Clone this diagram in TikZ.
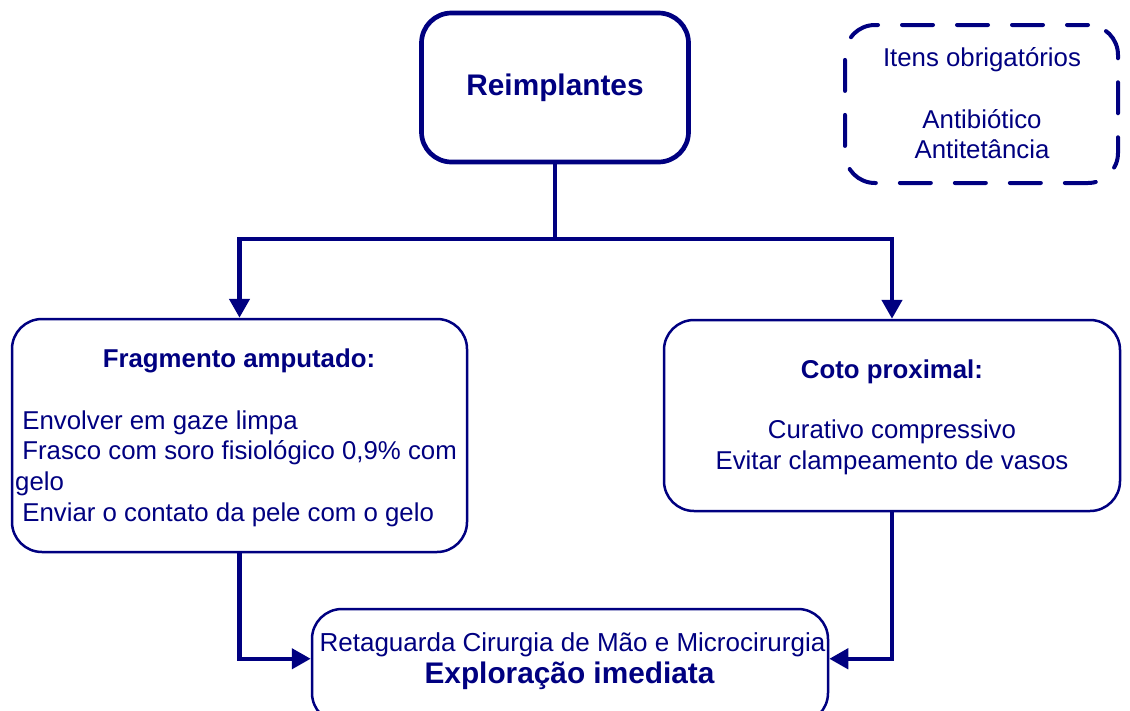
\documentclass[tikz,border=0pt]{standalone}
\usepackage{fontspec}
\setmainfont{Liberation Sans}
\usetikzlibrary{arrows.meta}
\definecolor{navy}{HTML}{000080}
\begin{document}
\begin{tikzpicture}[x=1pt,y=-1pt,
  box/.style={draw=navy, rounded corners=30pt, line width=2.5pt, inner sep=0pt},
  topbox/.style={box, line width=4.7pt},
  dashbox/.style={box, line width=4pt, line cap=round, dash pattern=on 31pt off 24pt, dash phase=10pt},
  conn/.style={draw=navy, line width=4.5pt},
  arr/.style={-{Triangle[length=19pt,width=20pt]}},
  body/.style={text=navy, inner sep=0pt, anchor=base, font=\fontsize{25.8}{31}\selectfont},
  bodyl/.style={body, anchor=base west},
  head/.style={body, font=\bfseries\fontsize{25.8}{31}\selectfont},
  big/.style={body, font=\bfseries\fontsize{29.8}{35}\selectfont},
]
\useasboundingbox (0,0) rectangle (1130,710);

% boxes
\node[topbox, minimum width=267pt, minimum height=149pt] (top) at (555,87.5) {};
\node[dashbox, minimum width=273pt, minimum height=158pt] (req) at (981.5,104) {};
\node[box, minimum width=455pt, minimum height=233pt] (frag) at (239.5,435.5) {};
\node[box, minimum width=456pt, minimum height=191pt] (coto) at (892,415.5) {};
\node[box, minimum width=516pt, minimum height=114pt] (expl) at (570,666) {};

% texts
\node[big] (tReim) at (555,95.5) {Reimplantes};

\node[body] (tItens) at (982,66) {Itens obrigatórios};
\node[body] (tAntib) at (982,128) {Antibiótico};
\node[body] (tAntit) at (982,158.5) {Antitetância};

\node[head] (tFrag) at (239,367) {Fragmento amputado:};
\node[bodyl] (tEnv) at (15,429) {\kern0.278em Envolver em gaze limpa};
\node[bodyl] (tFra) at (15,459.7) {\kern0.278em Frasco com soro fisiológico 0,9\% com};
\node[bodyl] (tGel) at (15,490.3) {gelo};
\node[bodyl] (tEnvi) at (15,521) {\kern0.278em Enviar o contato da pele com o gelo};

\node[head] (tCoto) at (892,378) {Coto proximal:};
\node[body] (tCur) at (892,438) {Curativo compressivo};
\node[body] (tEvi) at (892,469) {Evitar clampeamento de vasos};

\node[body, font=\fontsize{26}{31}\selectfont] (tRet) at (572.5,651) {Retaguarda Cirurgia de Mão e Microcirurgia};
\node[big] (tExp) at (569.5,683) {Exploração imediata};

% connectors
\coordinate (j) at (555,239);
\coordinate (bL) at ([yshift=-51pt]expl.north west);
\coordinate (bR) at ([yshift=-51pt]expl.north east);
\draw[conn] (top.south) -- (j);
\draw[conn,arr] (j) -| (frag.north);
\draw[conn,arr] (j) -| (coto.north);
\draw[conn,arr] (frag.south) |- (bL);
\draw[conn,arr] (coto.south) |- (bR);
\end{tikzpicture}
\end{document}
